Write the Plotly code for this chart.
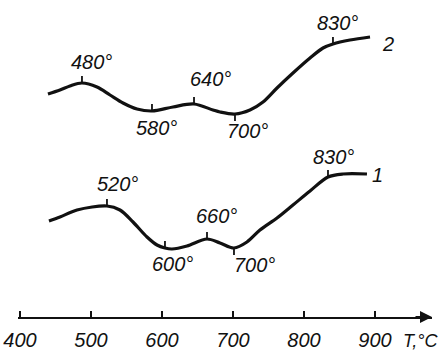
import plotly.graph_objects as go

# ---- data (temperature, °C ; signal, arbitrary units) ----
T2 = [439.4, 456.3, 470.4, 487.3, 508.5, 526.8, 545.1, 564.8, 585.9, 615.5, 645.1,
      671.8, 681.7, 702.8, 723.9, 742.3, 762.0, 784.5, 808.5, 826.8, 840.8, 864.8, 893.0]
S2 = [260, 264, 268, 271, 267, 259, 251, 245, 243, 247, 250,
      244, 242, 240, 244, 252, 266, 281, 296, 306, 310, 314, 317]

T1 = [440.8, 456.3, 480.3, 522.5, 540.8, 559.2, 578.9, 593.0, 604.2, 614.1, 635.2,
      663.4, 681.7, 701.4, 719.7, 738.0, 762.0, 784.5, 808.5, 833.8, 854.9, 888.7]
S1 = [133, 137, 144, 148, 144, 132, 117, 109, 106, 105, 108,
      115, 111, 106, 112, 124, 136, 149, 163, 177, 180, 180]

marks2_idx = [3, 8, 10, 13, 20]
marks2_txt = ["480°", "580°", "640°", "700°", "830°"]
marks1_idx = [3, 8, 11, 13, 19]
marks1_txt = ["520°", "600°", "660°", "700°", "830°"]

tick_vals = [400, 500, 600, 700, 800, 900]
tick_text = ["400", "500", "600", "700", "800", "900"]
axis_title = "T,°C"
curve_names = ["1", "2"]

# ---- layout / style ----
INK = "#111111"
FONT = "Liberation Sans"
mark_dir2 = [1, 1, 1, -1, 1]
mark_dir1 = [1, 1, 1, -1, 1]
lab_off2 = [(10, 21), (5, -17), (16, 25), (13, -17), (5, 21)]
lab_off1 = [(11, 22), (8, -16), (9, 23), (21, -17), (6, 20)]

fig = go.Figure()

for T, S in [(T1, S1), (T2, S2)]:
    fig.add_trace(go.Scatter(x=T, y=S, mode="lines",
                             line=dict(color=INK, width=3.2, shape="spline", smoothing=0.9),
                             hoverinfo="skip", showlegend=False))

annotations = []
for T, S, idxs, txts, dirs, offs in [(T2, S2, marks2_idx, marks2_txt, mark_dir2, lab_off2),
                                      (T1, S1, marks1_idx, marks1_txt, mark_dir1, lab_off1)]:
    for i, txt, d, (dx, dy) in zip(idxs, txts, dirs, offs):
        fig.add_trace(go.Scatter(x=[T[i], T[i]], y=[S[i], S[i] + 7 * d], mode="lines",
                                 line=dict(color=INK, width=1.8),
                                 hoverinfo="skip", showlegend=False))
        annotations.append(dict(x=T[i], y=S[i], xref="x", yref="y", text=txt, showarrow=False,
                                xshift=dx, yshift=dy,
                                font=dict(family=FONT, size=20, color=INK, style="italic")))

# curve numbers at the curve ends
annotations.append(dict(x=T1[-1], y=S1[-1], text=curve_names[0], showarrow=False,
                        xshift=11, yshift=-1,
                        font=dict(family=FONT, size=20, color=INK, style="italic")))
annotations.append(dict(x=T2[-1], y=S2[-1], text=curve_names[1], showarrow=False,
                        xshift=18, yshift=-7,
                        font=dict(family=FONT, size=20, color=INK, style="italic")))

# axis arrow head
annotations.append(dict(x=1, y=0, xref="paper", yref="paper", text="", showarrow=True,
                        arrowhead=2, arrowsize=1.2, arrowwidth=2, arrowcolor=INK,
                        ax=-18, ay=0, axref="pixel", ayref="pixel"))
# axis title
annotations.append(dict(x=0.973, y=0, xref="paper", yref="paper", text=axis_title,
                        showarrow=False, xanchor="center", yanchor="middle", yshift=-24,
                        font=dict(family=FONT, size=18, color=INK, style="italic")))

fig.update_layout(
    width=440, height=354,
    margin=dict(l=18, r=8, t=0, b=37, autoexpand=False),
    paper_bgcolor="white", plot_bgcolor="white",
    annotations=annotations,
    xaxis=dict(range=[397.2, 980.3], showline=True, linecolor=INK, linewidth=2,
               ticks="inside", ticklen=6, tickwidth=2, tickcolor=INK,
               tickvals=tick_vals, ticktext=tick_text, showgrid=False, zeroline=False,
               tickfont=dict(family=FONT, size=20, color=INK, style="italic"),
               ticklabelstandoff=4, automargin=False, fixedrange=True),
    yaxis=dict(range=[37, 354], visible=False, fixedrange=True, automargin=False),
)

fig.write_html("out.html", config={"displayModeBar": False},
               post_script="document.body.style.margin='0px';document.body.style.overflow='hidden';")
